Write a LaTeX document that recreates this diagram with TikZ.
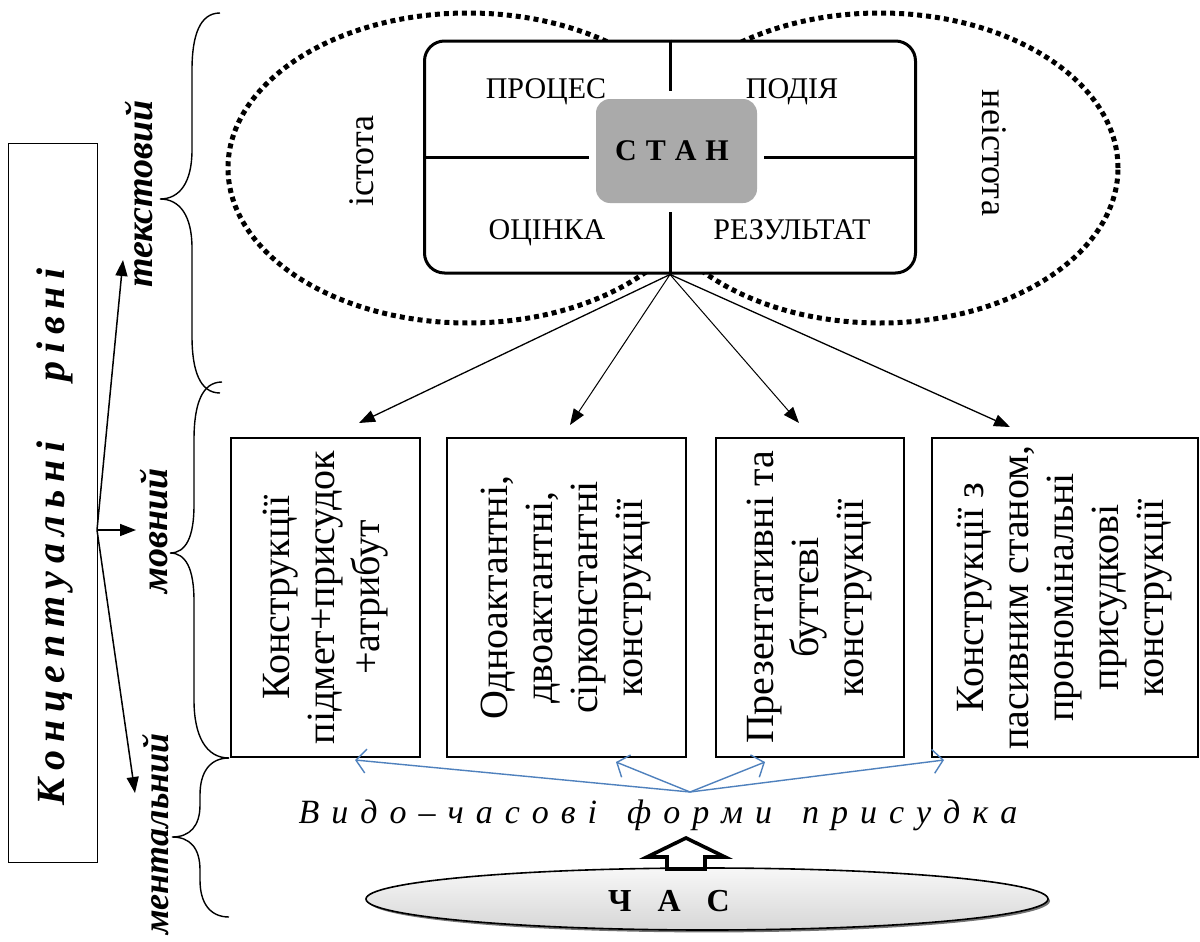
\documentclass[tikz,border=0pt]{standalone}
\usepackage{fontspec}
\setmainfont{Liberation Serif}
\usetikzlibrary{arrows.meta,calc,shapes.geometric}
\definecolor{stangray}{RGB}{170,170,170}
\definecolor{blueline}{RGB}{79,129,189}
\newdimen\lsamt
\def\lsx#1{\ifx\relax#1\else#1\hskip\lsamt\expandafter\lsx\fi}
\newcommand\spaced[2]{{\lsamt=#1\relax\lsx#2\relax\hskip-\lsamt}}
\begin{document}
\begin{tikzpicture}[x=0.5pt,y=-0.5pt,
  dotring/.style={line width=2.5pt, dash pattern=on 2.5pt off 2pt},
  thick frame/.style={line width=1.5pt},
  cbox/.style={draw, line width=0.6pt, inner sep=0pt, minimum height=159.5pt},
  boxtext/.style={rotate=90, align=center, inner sep=0pt, font=\fontsize{20pt}{22.5pt}\selectfont},
  quad/.style={anchor=base, inner sep=0pt, font=\fontsize{15pt}{18pt}\selectfont},
  lvl/.style={rotate=90, anchor=base, inner sep=0pt, font=\fontsize{19pt}{22pt}\selectfont\bfseries\itshape},
  larrow/.style={line width=0.75pt, -{Triangle[length=8pt,width=6pt]}},
  darrow/.style={line width=0.65pt, -{Triangle[length=8pt,width=6pt]}},
  barrow/.style={draw=blueline, line width=0.7pt, -{Straight Barb[length=5pt,width=12pt]}},
  bracepath/.style={line width=0.7pt}
]
\fill[white] (0,0) rectangle (1200,942);
\useasboundingbox (0,0) rectangle (1200,942);

% left box with vertical title
\node[draw, line width=0.5pt, inner sep=0pt, minimum width=44.5pt, minimum height=359.5pt] (lbox) at (52.5,502.5) {};
\node[rotate=90, anchor=base, inner sep=0pt, font=\fontsize{20pt}{22pt}\selectfont\bfseries\itshape] (lt) at (64,533)
  {\spaced{3.8pt}{Концептуальні}\hspace{30pt}\spaced{3.8pt}{рівні}};

% level labels
\node[lvl] (tek) at (152,194) {текстовий};
\node[lvl] (mov) at (167,531) {мовний};
\node[lvl, anchor=base east, font=\fontsize{18pt}{22pt}\selectfont\bfseries\itshape] (men) at (168,733) {ментальний};

% arrows from the left box
\coordinate (o) at (97,530);
\coordinate (upt) at (123,260);
\coordinate (midt) at (136,530);
\coordinate (dnt) at (135,793);
\draw[larrow] (o) -- (upt);
\draw[larrow] (o) -- (midt);
\draw[larrow] (o) -- (dnt);

% braces
\draw[bracepath] (220,13) .. controls (200,13) and (192,35) .. (192,70) -- (192,150)
  .. controls (192,182) and (180,199) .. (160,199)
  .. controls (180,199) and (192,216) .. (192,248) -- (192,336)
  .. controls (192,371) and (200,393) .. (220,393);
\draw[bracepath] (222,382) .. controls (202,382) and (194,404) .. (194,440) -- (194,505)
  .. controls (194,537) and (186,553) .. (170,553)
  .. controls (186,553) and (194,569) .. (194,601) -- (194,700)
  .. controls (194,736) and (206,758) .. (229,758);
\draw[bracepath] (229,758) .. controls (210,758) and (200,772) .. (200,795) -- (200,805)
  .. controls (200,826) and (190,837) .. (172,837)
  .. controls (190,837) and (200,848) .. (200,870) -- (200,880)
  .. controls (200,903) and (210,917) .. (229,917);

% dotted ellipses
\draw[dotring] (468,168) ellipse [x radius=120pt, y radius=77.5pt];
\draw[dotring] (880,168) ellipse [x radius=119pt, y radius=77.5pt];
\node[rotate=90, anchor=base, inner sep=0pt, font=\fontsize{18pt}{20pt}\selectfont] (ist) at (373,161) {істота};
\node[rotate=-90, anchor=base, inner sep=0pt, font=\fontsize{18pt}{20pt}\selectfont] (neist) at (982,153) {неістота};

% central frame
\node[draw, thick frame, rounded corners=10pt, fill=white, minimum width=245.5pt, minimum height=116pt, inner sep=0pt] (frame) at (670,157) {};
\draw[thick frame] (frame.north) -- ++(0,51);
\draw[thick frame] (frame.south) -- ++(0,-63);
\draw[thick frame] (frame.west) -- ++(166,0);
\draw[thick frame] (frame.east) -- ++(-153,0);
\node[fill=stangray, rounded corners=7pt, minimum width=80.5pt, minimum height=52pt, inner sep=0pt,
  font=\fontsize{15pt}{18pt}\selectfont\bfseries] (stan) at (676.5,151) {\spaced{4.5pt}{СТАН}};
\node[quad] (proc) at (546,98) {ПРОЦЕС};
\node[quad] (podia) at (792,98) {ПОДІЯ};
\node[quad] (ocin) at (547,239) {ОЦІНКА};
\node[quad] (rez) at (792,239) {РЕЗУЛЬТАТ};

% construction boxes
\node[cbox, minimum width=94.5pt] (b1) at (325.5,597.5) {};
\node[cbox, minimum width=119.5pt] (b2) at (566.5,597.5) {};
\node[cbox, minimum width=94pt] (b3) at (810,597.5) {};
\node[cbox, minimum width=133pt] (b4) at (1065,597.5) {};
\node[boxtext] (b1t) at (b1.center) {Конструкції\\підмет+присудок\\+атрибут};
\node[boxtext] (b2t) at (b2.center) {Одноактантні,\\двоактантні,\\сірконстантні\\конструкції};
\node[boxtext] (b3t) at (b3.center) {Презентативні та\\буттєві\\конструкції};
\node[boxtext] (b4t) at (b4.center) {Конструкції з\\пасивним станом,\\прономінальні\\присудкові\\конструкції};

% arrows from frame to boxes
\coordinate (a1) at (359,423);
\coordinate (a2) at (570,425);
\coordinate (a3) at (799,423);
\coordinate (a4) at (1010,427);
\draw[darrow] (frame.south) -- (a1);
\draw[darrow, line width=0.5pt] (frame.south) -- (a2);
\draw[darrow, line width=0.5pt] (frame.south) -- (a3);
\draw[darrow] (frame.south) -- (a4);

% forms of predicate
\node[anchor=base, inner sep=0pt, font=\fontsize{17pt}{20pt}\selectfont\itshape] (vf) at (664,823)
  {\spaced{6pt}{Видо–часові}\hspace{15pt}\spaced{6pt}{форми}\hspace{15pt}\spaced{6pt}{присудка}};
\coordinate (vc) at (690,792);
\coordinate (t1) at (355,760);
\coordinate (t2) at (616,762);
\coordinate (t3) at (765,762);
\coordinate (t4) at (944,760);
\draw[barrow] (vc) -- (t1);
\draw[barrow] (vc) -- (t2);
\draw[barrow] (vc) -- (t3);
\draw[barrow] (vc) -- (t4);

% time ellipse
\fill[black!55] (709,901) ellipse [x radius=170.5pt, y radius=15.7pt];
\node[ellipse, draw, line width=0.8pt, inner sep=0pt, minimum width=341pt, minimum height=31pt,
  top color=gray!6, bottom color=gray!32] (chas) at (707,899) {};
\node[anchor=base, inner sep=0pt, font=\fontsize{16pt}{18pt}\selectfont\bfseries] (chast) at (682,911) {\spaced{13pt}{ЧАС}};
\draw[line width=1.8pt, fill=white, line join=miter] (686,838) -- (725,857) -- (705,857) -- (705,869)
  -- (667,869) -- (667,857) -- (647,857) -- cycle;
\end{tikzpicture}
\end{document}
